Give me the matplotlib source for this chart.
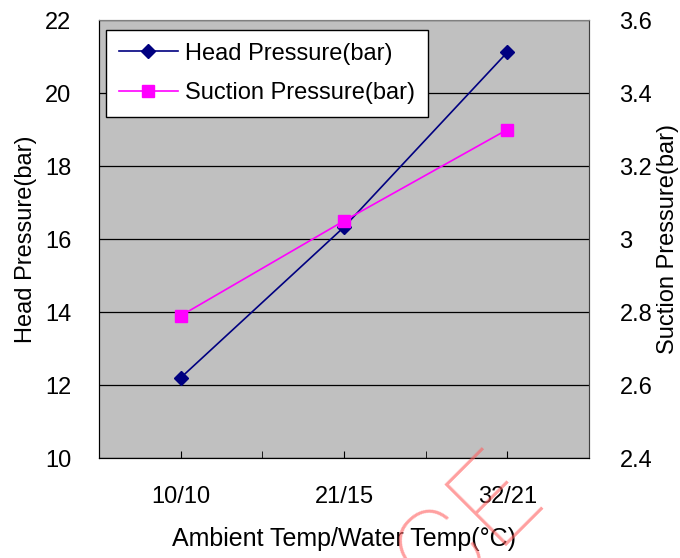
import matplotlib.pyplot as plt
from matplotlib.ticker import MultipleLocator

plt.rcParams['font.family'] = ['Liberation Sans', 'DejaVu Sans']

categories = ['10/10', '21/15', '32/21']
head_pressure = [12.2, 16.33, 21.12]
suction_pressure = [2.79, 3.05, 3.30]
suction_ticks = [2.4, 2.6, 2.8, 3.0, 3.2, 3.4, 3.6]
suction_labels = ['2.4', '2.6', '2.8', '3', '3.2', '3.4', '3.6']

fig = plt.figure(figsize=(6.8, 5.58), dpi=100)
ax = fig.add_axes([0.1456, 0.179, 0.7206, 0.785])
ax.set_facecolor('#C0C0C0')

x = range(len(categories))
l1, = ax.plot(x, head_pressure, color='#000080', marker='D', markersize=7,
              linewidth=1.2, label='Head Pressure(bar)', zorder=5)
ax.set_xlim(-0.5, 2.5)
ax.set_ylim(10, 22)
ax.yaxis.set_major_locator(MultipleLocator(2))
ax.grid(axis='y', color='black', linewidth=0.9)
ax.set_axisbelow(True)
ax.set_xticks(list(x))
ax.set_xticklabels(categories)
ax.set_xticks([-0.5, 0.5, 1.5, 2.5], minor=True)
ax.tick_params(axis='x', which='both', direction='in', length=5, pad=20, labelsize=17)
ax.tick_params(axis='y', length=0, pad=20, labelsize=17)
ax.set_xlabel('Ambient Temp/Water Temp(°C)', fontsize=18, labelpad=14)
ax.set_ylabel('Head Pressure(bar)', fontsize=17, labelpad=6)
for s in ['top', 'right']:
    ax.spines[s].set_color('#808080')
ax.spines['left'].set_color('black')
ax.spines['bottom'].set_color('black')

ax2 = ax.twinx()
l2, = ax2.plot(x, suction_pressure, color='#FF00FF', marker='s', markersize=9,
               linewidth=1.2, label='Suction Pressure(bar)', zorder=5)
ax2.set_ylim(2.4, 3.6)
ax2.set_yticks(suction_ticks)
ax2.set_yticklabels(suction_labels)
ax2.tick_params(axis='y', length=0, pad=22, labelsize=17)
ax2.set_ylabel('Suction Pressure(bar)', fontsize=17, labelpad=3)
ax2.spines['right'].set_color('#404040')
ax2.spines['top'].set_color('#808080')

leg = ax.legend(handles=[l1, l2], loc='upper left', bbox_to_anchor=(0.014, 0.978),
                borderaxespad=0, fontsize=17, fancybox=False, edgecolor='black',
                framealpha=1, handlelength=2.5, handletextpad=0.3,
                borderpad=0.55, labelspacing=0.75)
leg.get_frame().set_linewidth(1.0)
leg.set_zorder(10)

# watermark, only the edge of it shows on the picture
fig.text(0.671, 0.042, 'ICE', color='#FF6060', alpha=0.6, fontsize=88,
         family=['Roboto', 'Liberation Sans'], fontweight=100, rotation=45,
         ha='center', va='center', rotation_mode='anchor', zorder=20)

fig.savefig('out.png', dpi=100)
